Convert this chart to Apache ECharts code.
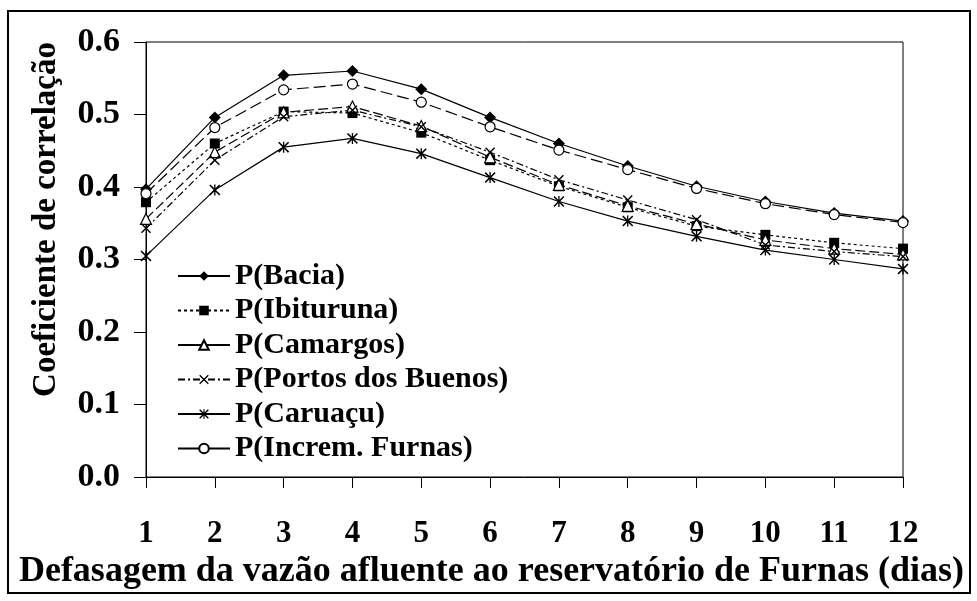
<!DOCTYPE html>
<html>
<head>
<meta charset="utf-8">
<script src="https://cdn.jsdelivr.net/npm/echarts@6/dist/echarts.min.js"></script>
<style>
  html, body { margin: 0; padding: 0; background: #fff; }
  #main { width: 977px; height: 601px; }
</style>
</head>
<body>
<div id="main"></div>
<script>
// defasagem (dias)
var dias = ["1", "2", "3", "4", "5", "6", "7", "8", "9", "10", "11", "12"];
// coeficiente de correlação por posto
var bacia     = [0.397, 0.496, 0.554, 0.560, 0.535, 0.496, 0.460, 0.429, 0.401, 0.380, 0.364, 0.353];
var ibituruna = [0.379, 0.460, 0.504, 0.502, 0.475, 0.437, 0.401, 0.372, 0.346, 0.334, 0.323, 0.315];
var camargos  = [0.356, 0.448, 0.503, 0.511, 0.484, 0.441, 0.403, 0.374, 0.349, 0.327, 0.315, 0.307];
var portos    = [0.343, 0.437, 0.497, 0.506, 0.483, 0.448, 0.410, 0.382, 0.355, 0.320, 0.311, 0.304];
var caruacu   = [0.305, 0.396, 0.455, 0.467, 0.446, 0.413, 0.380, 0.353, 0.332, 0.313, 0.300, 0.287];
var increm    = [0.391, 0.482, 0.534, 0.542, 0.517, 0.483, 0.451, 0.424, 0.398, 0.377, 0.362, 0.351];
var yTicks = ["0.0", "0.1", "0.2", "0.3", "0.4", "0.5", "0.6"];

var fonte = '"Liberation Serif", "Times New Roman", serif';
var xis = "path://M0,1 L1,0 L5,4 L9,0 L10,1 L6,5 L10,9 L9,10 L5,6 L1,10 L0,9 L4,5 Z";
var asterisco = "path://M0,1 L1,0 L5,4 L9,0 L10,1 L6,5 L10,9 L9,10 L5,6 L1,10 L0,9 L4,5 Z M4.4,0 L5.6,0 L5.6,10 L4.4,10 Z";

function serie(nome, dados, simbolo, tam, cheio, tipo) {
  return {
    name: nome,
    type: "line",
    data: dados,
    symbol: simbolo,
    symbolSize: tam,
    showAllSymbol: true,
    lineStyle: { color: "#000", width: 1.2, type: tipo },
    itemStyle: { color: cheio ? "#000" : "#fff", borderColor: "#000", borderWidth: cheio ? 0 : 1.2 },
    emphasis: { disabled: true },
    animation: false
  };
}

var myChart = echarts.init(document.getElementById("main"));
var option = {
  backgroundColor: "#fff",
  graphic: [{
    type: "rect",
    shape: { x: 8, y: 11, width: 962, height: 582 },
    style: { fill: "none", stroke: "#000", lineWidth: 2 }
  }],
  grid: {
    left: 146, right: 74, top: 42, bottom: 124,
    show: true, borderColor: "#000", borderWidth: 1
  },
  legend: {
    orient: "vertical",
    left: 172, top: 256,
    itemWidth: 52, itemHeight: 12, itemGap: 4.5,
    textStyle: { fontFamily: fonte, fontWeight: "bold", fontSize: 30, color: "#000", lineHeight: 30 },
    data: [
      { name: "P(Bacia)" },
      { name: "P(Ibituruna)" },
      { name: "P(Camargos)", lineStyle: { type: "solid" } },
      { name: "P(Portos dos Buenos)" },
      { name: "P(Caruaçu)" },
      { name: "P(Increm. Furnas)", lineStyle: { type: "solid" } }
    ]
  },
  xAxis: {
    type: "category",
    data: dias,
    boundaryGap: false,
    name: "Defasagem da vazão afluente ao reservatório de Furnas (dias)",
    nameLocation: "middle",
    nameGap: 70,
    nameTextStyle: { fontFamily: fonte, fontWeight: "bold", fontSize: 36, color: "#000", padding: [0, 66, 0, 0] },
    axisLine: { lineStyle: { color: "#000", width: 1 } },
    axisTick: { length: 11, lineStyle: { color: "#000" } },
    axisLabel: { margin: 41, fontFamily: fonte, fontWeight: "bold", fontSize: 31, color: "#000" },
    splitLine: { show: false }
  },
  yAxis: {
    type: "value",
    min: 0, max: 0.6, interval: 0.1,
    name: "Coeficiente de correlação",
    nameLocation: "middle",
    nameGap: 83,
    nameRotate: 90,
    nameTextStyle: { fontFamily: fonte, fontWeight: "bold", fontSize: 33, color: "#000", padding: [0, 0, 0, 80] },
    axisLine: { show: true, lineStyle: { color: "#000", width: 1 } },
    axisTick: { show: true, length: 12, lineStyle: { color: "#000" } },
    axisLabel: {
      margin: 26, fontFamily: fonte, fontWeight: "bold", fontSize: 34, color: "#000",
      formatter: function(v) { return yTicks[Math.round(v * 10)]; }
    },
    splitLine: { show: false }
  },
  series: [
    serie("P(Bacia)", bacia, "diamond", 12, true, "solid"),
    serie("P(Ibituruna)", ibituruna, "rect", 10, true, [3, 3]),
    serie("P(Camargos)", camargos, "triangle", 11, false, [10, 4]),
    serie("P(Portos dos Buenos)", portos, xis, 10, true, [7, 3, 2, 3]),
    serie("P(Caruaçu)", caruacu, asterisco, 11, true, "solid"),
    serie("P(Increm. Furnas)", increm, "circle", 10, false, [12, 5])
  ]
};
myChart.setOption(option);
</script>
</body>
</html>
